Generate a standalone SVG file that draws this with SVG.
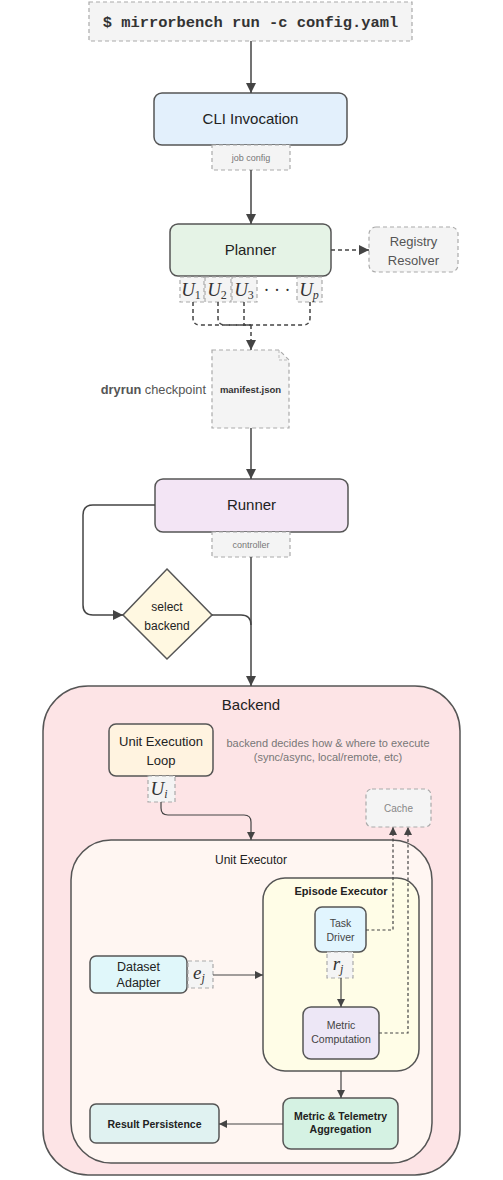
<svg xmlns="http://www.w3.org/2000/svg" width="503" height="1180" viewBox="0 0 503 1180">
<defs>
<marker id="ah" markerWidth="10" markerHeight="10" refX="10" refY="5" orient="auto" markerUnits="userSpaceOnUse"><path d="M0,0 L10,5 L0,10 z" fill="#444"/></marker>
<marker id="ahs" markerWidth="8" markerHeight="8" refX="8" refY="4" orient="auto" markerUnits="userSpaceOnUse"><path d="M0,0 L8,4 L0,8 z" fill="#444"/></marker>
<style>
text{font-family:"Liberation Sans",Arial,sans-serif;fill:#222;text-anchor:middle}
.box{stroke:#555;stroke-width:1.5}
.dash{fill:#f4f4f4;stroke:#aaa;stroke-width:1.2;stroke-dasharray:4 3}
.lab{font-size:9px;fill:#777}
.math{font-family:"Liberation Serif","DejaVu Serif",serif;font-style:italic;font-size:19px;fill:#333}
.c{fill:none;stroke:#444;stroke-width:1.5}
.cd{fill:none;stroke:#444;stroke-width:1.5;stroke-dasharray:4 3}
.cs{fill:none;stroke:#444;stroke-width:1.2}
.csd{fill:none;stroke:#444;stroke-width:1.2;stroke-dasharray:3 2.5}
</style>
</defs>
<rect width="503" height="1180" fill="#fff"/>

<g id="cmd">
<rect x="89" y="2" width="323" height="39" class="dash"/>
<text x="250.5" y="27" style="font-family:'Liberation Mono','Courier New',monospace;font-weight:bold;font-size:15.4px;fill:#333">$ mirrorbench run -c config.yaml</text>
</g>

<g id="cli">
<rect x="154" y="93" width="193" height="52" rx="8" class="box" fill="#e3f0fc"/>
<text x="250.5" y="124" font-size="15">CLI Invocation</text>
<rect x="212" y="145" width="78" height="25" class="dash"/>
<text x="251" y="161" class="lab">job config</text>
</g>

<g id="planner">
<rect x="170" y="224" width="161" height="52" rx="8" class="box" fill="#e5f3e6"/>
<text x="250.5" y="255" font-size="15">Planner</text>
<rect x="180" y="277" width="24" height="25" class="dash"/>
<text x="191" y="296" class="math">U<tspan font-size="12" font-style="normal" dy="3">1</tspan></text>
<rect x="205" y="277" width="26" height="25" class="dash"/>
<text x="217" y="296" class="math">U<tspan font-size="12" font-style="normal" dy="3">2</tspan></text>
<rect x="232" y="277" width="25" height="25" class="dash"/>
<text x="244" y="296" class="math">U<tspan font-size="12" font-style="normal" dy="3">3</tspan></text>
<text x="277" y="296" style="font-family:'Liberation Serif',serif;font-size:18px;fill:#333">· · ·</text>
<rect x="297" y="277" width="25" height="25" class="dash"/>
<text x="309" y="296" class="math">U<tspan font-size="12" dy="3">p</tspan></text>
</g>

<g id="registry">
<rect x="369" y="227" width="89" height="45" rx="7" class="dash"/>
<text x="413.5" y="246" font-size="13" style="fill:#555">Registry</text>
<text x="413.5" y="265" font-size="13" style="fill:#555">Resolver</text>
</g>

<g id="manifest">
<path d="M212 350 H279 L289 360 V428 H212 Z" class="dash"/>
<path d="M279 350 L279 360 L289 360" fill="none" stroke="#bbb" stroke-width="1" stroke-dasharray="3 2"/>
<text x="250.5" y="393" font-size="9.5" font-weight="bold" style="fill:#333">manifest.json</text>
<text x="206" y="394" font-size="12.8" style="text-anchor:end;fill:#555"><tspan font-weight="bold">dryrun</tspan> checkpoint</text>
</g>

<g id="runner">
<rect x="155" y="479" width="193" height="53" rx="8" class="box" fill="#f3e5f5"/>
<text x="251.5" y="510" font-size="15">Runner</text>
<rect x="212" y="532" width="78" height="25" class="dash"/>
<text x="251" y="548" class="lab">controller</text>
</g>

<g id="select-backend">
<path d="M167 569 L212 615 L167 659 L123 615 Z" class="box" fill="#fff8e1"/>
<text x="167" y="611" font-size="12">select</text>
<text x="167" y="630" font-size="12">backend</text>
</g>

<g id="backend">
<rect x="43" y="686" width="417" height="489" rx="45" class="box" fill="#fde4e6"/>
<text x="251" y="710" font-size="15">Backend</text>
<text x="328" y="747" font-size="11" style="fill:#777">backend decides how &amp; where to execute</text>
<text x="328" y="761" font-size="11" style="fill:#777">(sync/async, local/remote, etc)</text>
</g>

<g id="unit-loop">
<rect x="109" y="724" width="104" height="52" rx="7" class="box" fill="#fff3e0"/>
<text x="161" y="746" font-size="13">Unit Execution</text>
<text x="161" y="765" font-size="13">Loop</text>
<rect x="148" y="776" width="27" height="26" class="dash"/>
<text x="159" y="795" class="math">U<tspan font-size="12" dy="3">i</tspan></text>
</g>

<g id="cache">
<rect x="366" y="789" width="65" height="38" rx="6" class="dash"/>
<text x="398.5" y="812" font-size="10" style="fill:#888">Cache</text>
</g>

<g id="unit-executor">
<rect x="71" y="840" width="361" height="323" rx="40" class="box" fill="#fff6f2"/>
<text x="251" y="864" font-size="12">Unit Executor</text>
</g>

<g id="episode-executor">
<rect x="263" y="878" width="156" height="193" rx="22" class="box" fill="#fffde7"/>
<text x="341" y="895" font-size="11" font-weight="bold">Episode Executor</text>
</g>

<g id="task-driver">
<rect x="315" y="907" width="51" height="45" rx="7" class="box" fill="#e1f5fe"/>
<text x="340.5" y="927" font-size="10.5" style="fill:#444">Task</text>
<text x="340.5" y="941" font-size="10.5" style="fill:#444">Driver</text>
<rect x="327" y="952" width="26" height="26" class="dash"/>
<text x="338" y="970" class="math">r<tspan font-size="12" dy="3">j</tspan></text>
</g>

<g id="metric-computation">
<rect x="303" y="1007" width="76" height="52" rx="8" class="box" fill="#ede7f6"/>
<text x="341" y="1029" font-size="10.5" style="fill:#444">Metric</text>
<text x="341" y="1043" font-size="10.5" style="fill:#444">Computation</text>
</g>

<g id="dataset-adapter">
<rect x="90" y="956" width="97" height="37" rx="6" class="box" fill="#e0f7fa"/>
<text x="138.5" y="971" font-size="12.5">Dataset</text>
<text x="138.5" y="987" font-size="12.5">Adapter</text>
<rect x="188" y="961" width="25" height="27" class="dash"/>
<text x="199" y="979" class="math">e<tspan font-size="12" dy="3">j</tspan></text>
</g>

<g id="aggregation">
<rect x="283" y="1098" width="115" height="51" rx="8" class="box" fill="#d5f2e3"/>
<text x="340.5" y="1120" font-size="10.5" font-weight="bold">Metric &amp; Telemetry</text>
<text x="340.5" y="1133" font-size="10.5" font-weight="bold">Aggregation</text>
</g>

<g id="result-persistence">
<rect x="90" y="1104" width="129" height="39" rx="6" class="box" fill="#e0f2f1"/>
<text x="154.5" y="1128" font-size="10.5" font-weight="bold">Result Persistence</text>
</g>

<g id="connectors">
<path d="M251 41 V93" class="c" marker-end="url(#ah)"/>
<path d="M251 170 V224" class="c" marker-end="url(#ah)"/>
<path d="M331 250 H369" class="cd" marker-end="url(#ah)"/>
<path d="M193 302 V318 Q193 325 200 325 H251" class="cd"/>
<path d="M218 302 V318 Q218 325 225 325 H251" class="cd"/>
<path d="M244 302 V325 H251" class="cd"/>
<path d="M310 302 V318 Q310 325 303 325 H251" class="cd"/>
<path d="M251 325 V350" class="cd" marker-end="url(#ah)"/>
<path d="M251 428 V479" class="c" marker-end="url(#ah)"/>
<path d="M251 557 V686" class="c" marker-end="url(#ah)"/>
<path d="M155 505 H93 Q83 505 83 515 V605 Q83 615 93 615 H123" class="c" marker-end="url(#ah)"/>
<path d="M212 615 H241 Q251 615 251 625" class="c"/>
<path d="M161 802 V808 Q161 815 168 815 H244 Q251 815 251 822 V840" class="cs" marker-end="url(#ahs)"/>
<path d="M366 930 H393 V827" class="csd" marker-end="url(#ahs)"/>
<path d="M379 1033 H408 V827" class="csd" marker-end="url(#ahs)"/>
<path d="M213 975 H263" class="cs" marker-end="url(#ahs)"/>
<path d="M341 978 V1007" class="cs" marker-end="url(#ahs)"/>
<path d="M341 1071 V1098" class="cs" marker-end="url(#ahs)"/>
<path d="M283 1124 H219" class="cs" marker-end="url(#ahs)"/>
</g>
</svg>
